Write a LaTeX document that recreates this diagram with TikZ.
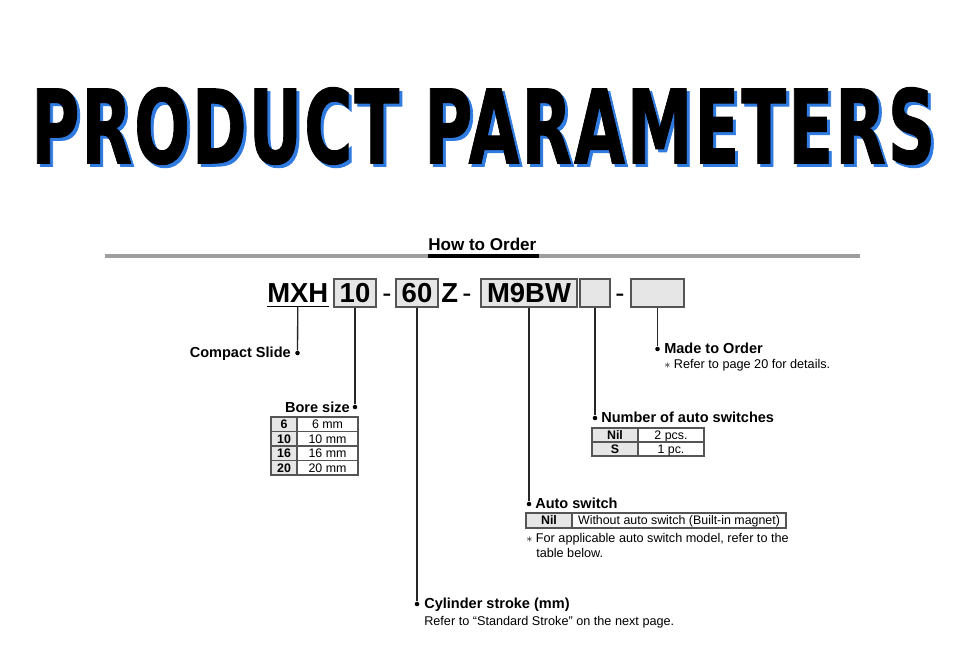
\documentclass[tikz,border=0pt]{standalone}
\usepackage{fontspec}
\setmainfont{Liberation Sans}
\newfontfamily\bannerfont{DejaVu Sans}[LetterSpace=3,BoldFeatures={FakeBold=1}]
\usepackage{graphicx}

\definecolor{cellgray}{HTML}{E6E6E6}
\definecolor{rulegray}{HTML}{9E9E9E}
\definecolor{shadowblue}{HTML}{2F7BE0}
\definecolor{framegray}{HTML}{555555}

\newcommand{\bannertext}{\resizebox{678pt}{57pt}{\bannerfont\bfseries PRODUCT PARAMETERS}}

\begin{document}
\begin{tikzpicture}[x=0.75pt,y=-0.75pt,
		codebox/.style={draw=framegray,fill=cellgray,line width=0.9pt,inner sep=0,minimum height=21pt,
			font=\fontsize{20.6}{22}\selectfont\bfseries},
		codetext/.style={inner sep=0,anchor=base west,font=\fontsize{20.6}{22}\selectfont\bfseries},
		pin/.style={circle,fill=black,inner sep=0,minimum size=3.4pt},
		headtext/.style={inner sep=0,font=\fontsize{10.9}{13}\selectfont\bfseries},
		notetext/.style={inner sep=0,anchor=base west,font=\fontsize{9.5}{11}\selectfont},
		tabtext/.style={inner sep=0,anchor=base,font=\fontsize{9.3}{10}\selectfont},
		tabframe/.style={draw=framegray,line width=0.8pt}]
	\useasboundingbox (0,0) rectangle (960,651);

	% banner with its blue shadow
	\node[anchor=north west,inner sep=0] (banner) at (31,87)
		{\rlap{\hspace{2.25pt}\raisebox{-2.25pt}{\color{shadowblue}\bannertext}}\bannertext};

	% heading rule
	\coordinate (ruleL) at (105,256);
	\coordinate (ruleR) at (860,256);
	\node[headtext,anchor=base west,font=\fontsize{12.8}{14}\selectfont\bfseries] (howto) at (428,250) {How to Order};
	\draw[rulegray,line width=2.4pt] (ruleL) -- (ruleR);
	\draw[line width=2.4pt] (howto.west |- ruleL) -- ([xshift=1.5pt]howto.east |- ruleR);

	% order code
	\node[codetext] (mxh) at (267,302) {MXH};
	\draw[line width=0.9pt] ([yshift=-3pt]mxh.south west) -- ([yshift=-3pt]mxh.south east);
	\coordinate (mxhline) at ([yshift=-3pt]mxh.south);
	\begin{scope}[every node/.style={codebox}]
		\node[minimum width=31.5pt] (bore) at (355,293) {10};
		\node[minimum width=31.5pt] (stroke) at (417,293) {60};
		\node[minimum width=72pt] (switch) at (529,293) {M9BW};
		\node[minimum width=22.5pt] (count) at (595,293) {};
		\node[minimum width=39.75pt] (order) at (657.5,293) {};
	\end{scope}
	\node[codetext,anchor=base,font=\fontsize{20.6}{22}\selectfont] (dashA) at (387,302) {-};
	\node[codetext] (zed) at (441,302) {Z};
	\node[codetext,anchor=base,font=\fontsize{20.6}{22}\selectfont] (dashB) at (467,302) {-};
	\node[codetext,anchor=base,font=\fontsize{20.6}{22}\selectfont] (dashC) at (620,302) {-};

	% pins
	\begin{scope}[every node/.style={pin}]
		\node (pinCompact) at (297.5,353) {};
		\node (pinBore) at (355,407) {};
		\node (pinStroke) at (417,604) {};
		\node (pinSwitch) at (529,504) {};
		\node (pinCount) at (595,418) {};
		\node (pinOrder) at (657.5,349) {};
	\end{scope}

	\begin{scope}[every edge/.style={draw=black!85,line width=1pt}]
		\path (mxhline) edge (pinCompact);
		\path (bore) edge (pinBore);
		\path (stroke) edge (pinStroke);
		\path (switch) edge (pinSwitch);
		\path (count) edge (pinCount);
		\path (order) edge (pinOrder);
	\end{scope}

	% labels
	\node[headtext,anchor=base east] (compactlbl) at (291,357) {Compact Slide};
	\node[headtext,anchor=base east] (borelbl) at (350,412) {Bore size};
	\node[headtext,anchor=base west] (strokelbl) at (424,608) {Cylinder stroke (mm)};
	\node[notetext] (strokenote) at (424,625) {Refer to “Standard Stroke” on the next page.};
	\node[headtext,anchor=base west] (switchlbl) at (535,508) {Auto switch};
	\node[notetext] (switchnote) at (526,542) {$\ast$ For applicable auto switch model, refer to the};
	\node[notetext] (switchnoteb) at (536,557) {table below.};
	\node[headtext,anchor=base west] (countlbl) at (601,422) {Number of auto switches};
	\node[headtext,anchor=base west] (orderlbl) at (664,353) {Made to Order};
	\node[notetext] (ordernote) at (664,368) {$\ast$ Refer to page 20 for details.};

	% bore size table
	\foreach \a/\b/\y in {6/6 mm/417,10/10 mm/431.5,16/16 mm/446,20/20 mm/460.5}{
		\draw[tabframe,fill=cellgray] (271,\y) rectangle (297,\y+14.5);
		\draw[tabframe] (297,\y) rectangle (358,\y+14.5);
		\node[tabtext,font=\fontsize{9.3}{10}\selectfont\bfseries] at (284,\y+11.5) {\a};
		\node[tabtext] at (327.5,\y+11.5) {\b};
	}

	% auto switch count table
	\foreach \a/\b/\y in {Nil/2 pcs./428,S/1 pc./442}{
		\draw[tabframe,fill=cellgray] (592,\y) rectangle (638,\y+14);
		\draw[tabframe] (638,\y) rectangle (704,\y+14);
		\node[tabtext,font=\fontsize{9.3}{10}\selectfont\bfseries] at (615,\y+11) {\a};
		\node[tabtext] at (671,\y+11) {\b};
	}

	% auto switch table
	\draw[tabframe,fill=cellgray] (526,513) rectangle (572,528);
	\draw[tabframe] (572,513) rectangle (786,528);
	\draw[framegray,line width=1.4pt] (526,513) -- (786,513);
	\node[tabtext,font=\fontsize{9.3}{10}\selectfont\bfseries] at (549,524.5) {Nil};
	\node[tabtext] at (679,524.5) {Without auto switch (Built-in magnet)};
\end{tikzpicture}
\end{document}
